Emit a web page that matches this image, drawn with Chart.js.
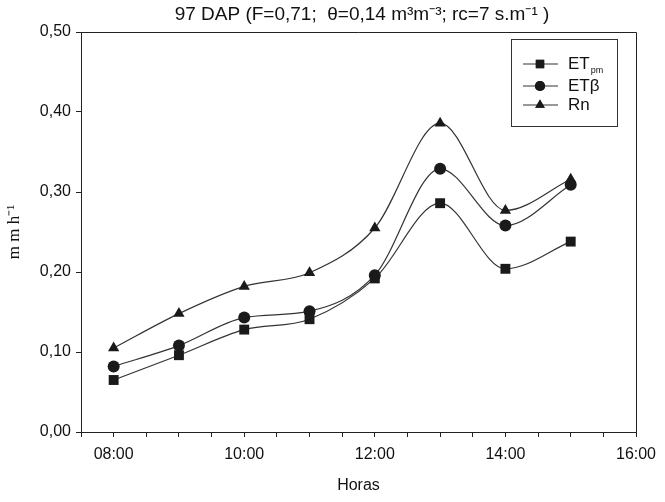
<!DOCTYPE html>
<html>
<head>
<meta charset="utf-8">
<script src="https://cdn.jsdelivr.net/npm/chart.js@4"></script>
<style>
  body { margin: 0; background: #fff; }
  canvas { display: block; }
</style>
</head>
<body>
<canvas id="chart" width="665" height="502"></canvas>
<script>
// Datos (horas del día)
const hours = [8, 9, 10, 11, 12, 13, 14, 15];
const etPm = [0.065, 0.096, 0.128, 0.141, 0.192, 0.286, 0.204, 0.238];
const etBeta = [0.082, 0.108, 0.143, 0.151, 0.196, 0.329, 0.258, 0.309];
const rn = [0.105, 0.148, 0.182, 0.199, 0.255, 0.386, 0.277, 0.316];

const tickHours = [8, 10, 12, 14, 16];
const tickLabels = ["08:00", "10:00", "12:00", "14:00", "16:00"];

const titleText = "97 DAP (F=0,71;  θ=0,14 m³m⁻³; rc=7 s.m⁻¹ )";
const xTitle = "Horas";
const yTitle = "m m h⁻¹";

const lineColor = "#333";
const markColor = "#1a1a1a";

function toPoints(values) {
    return hours.map((h, i) => ({ x: h, y: values[i] }));
}

function makeSet(label, values, style, radius) {
    return {
        label: label,
        data: toPoints(values),
        borderColor: lineColor,
        borderWidth: 1.2,
        pointStyle: style,
        pointRadius: radius,
        pointBackgroundColor: markColor,
        pointBorderColor: markColor,
        pointBorderWidth: 0,
        cubicInterpolationMode: "monotone",
        fill: false
    };
}

// fondo blanco, marco, título y leyenda dibujados a mano
const decor = {
    id: "decor",
    beforeDraw(chart) {
        const ctx = chart.ctx;
        ctx.save();
        ctx.fillStyle = "#fff";
        ctx.fillRect(0, 0, chart.width, chart.height);
        ctx.restore();
    },
    afterDraw(chart) {
        const ctx = chart.ctx;
        const a = chart.chartArea;
        ctx.save();
        ctx.strokeStyle = "#222";
        ctx.lineWidth = 1;
        ctx.beginPath();
        ctx.moveTo(a.left, a.top + 0.5);
        ctx.lineTo(a.right + 0.5, a.top + 0.5);
        ctx.lineTo(a.right + 0.5, a.bottom);
        ctx.stroke();

        // título
        ctx.fillStyle = "#111";
        ctx.font = "19px 'Liberation Sans', Arial, sans-serif";
        ctx.textAlign = "center";
        ctx.textBaseline = "middle";
        ctx.fillText(titleText, 362, 15);

        // leyenda
        const bx = 511, by = 39, bw = 106, bh = 87;
        ctx.strokeStyle = "#333";
        ctx.strokeRect(bx + 0.5, by + 0.5, bw, bh);
        const rows = [
            { y: 64, main: "ET", sub: "pm", ds: 0 },
            { y: 86, main: "ETβ", sub: "", ds: 1 },
            { y: 105, main: "Rn", sub: "", ds: 2 }
        ];
        rows.forEach(r => {
            const set = chart.data.datasets[r.ds];
            ctx.strokeStyle = lineColor;
            ctx.lineWidth = 1.2;
            ctx.beginPath();
            ctx.moveTo(523, r.y);
            ctx.lineTo(558, r.y);
            ctx.stroke();
            ctx.fillStyle = markColor;
            Chart.helpers.drawPoint(ctx, {
                pointStyle: set.pointStyle,
                radius: set.pointRadius * 0.85,
                borderWidth: 0,
                rotation: 0
            }, 540, r.y);
            ctx.fill();
            ctx.fillStyle = "#111";
            ctx.textAlign = "left";
            ctx.textBaseline = "middle";
            ctx.font = "17px 'Liberation Sans', Arial, sans-serif";
            ctx.fillText(r.main, 568, r.y);
            if (r.sub) {
                const w = ctx.measureText(r.main).width;
                ctx.font = "9px 'Liberation Sans', Arial, sans-serif";
                ctx.fillText(r.sub, 568 + w + 1, r.y + 7);
            }
        });
        ctx.restore();
    }
};

const ctx = document.getElementById("chart").getContext("2d");
new Chart(ctx, {
    type: "line",
    data: {
        datasets: [
            makeSet("ETpm", etPm, "rect", 7),
            makeSet("ETβ", etBeta, "circle", 6),
            makeSet("Rn", rn, "triangle", 6.5)
        ]
    },
    options: {
        responsive: false,
        animation: false,
        layout: { padding: { top: 32, right: 29, bottom: 0, left: 0 } },
        plugins: {
            legend: { display: false },
            title: { display: false },
            tooltip: { enabled: false }
        },
        scales: {
            x: {
                type: "linear",
                min: 7.5,
                max: 16,
                afterFit(scale) { scale.height = 70; },
                ticks: {
                    stepSize: 0.5,
                    autoSkip: false,
                    maxRotation: 0,
                    padding: 8,
                    color: "#111",
                    font: { family: "'Liberation Sans', Arial, sans-serif", size: 16 },
                    callback(v) {
                        const i = tickHours.indexOf(v);
                        return i >= 0 ? tickLabels[i] : "";
                    }
                },
                grid: { display: true, drawOnChartArea: false, drawTicks: true, tickLength: 5, color: "#222" },
                border: { display: true, color: "#222" },
                title: {
                    display: true,
                    text: xTitle,
                    color: "#111",
                    font: { family: "'Liberation Sans', Arial, sans-serif", size: 16 },
                    padding: { top: 4, bottom: 7 }
                }
            },
            y: {
                min: 0,
                max: 0.5,
                afterFit(scale) { scale.width = 81; },
                ticks: {
                    stepSize: 0.1,
                    padding: 5,
                    color: "#111",
                    font: { family: "'Liberation Sans', Arial, sans-serif", size: 16 },
                    callback(v) { return v.toFixed(2).replace(".", ","); }
                },
                grid: { display: true, drawOnChartArea: false, drawTicks: true, tickLength: 5, color: "#222" },
                border: { display: true, color: "#222" },
                title: {
                    display: true,
                    text: yTitle,
                    color: "#111",
                    font: { family: "'Liberation Serif', 'Times New Roman', serif", size: 17 },
                    padding: { top: 4, bottom: 4 }
                }
            }
        }
    },
    plugins: [decor]
});
</script>
</body>
</html>
